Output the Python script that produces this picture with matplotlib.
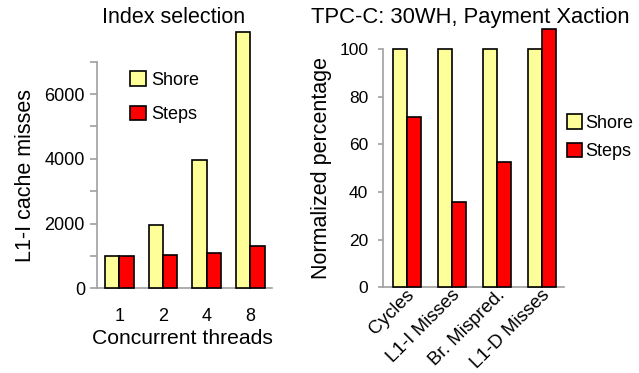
import matplotlib
matplotlib.use("Agg")
import matplotlib.pyplot as plt
import matplotlib.transforms as mtransforms
import numpy as np

# Data
threads = ["1", "2", "4", "8"]
shore_l1i = [1000, 1960, 3950, 7930]
steps_l1i = [1000, 1040, 1100, 1300]

metrics = ["Cycles", "L1-I Misses", "Br. Mispred.", "L1-D Misses"]
shore_pct = [100, 100, 100, 100]
steps_pct = [71.5, 35.8, 52.4, 108.2]

plt.rcParams.update({
    "font.family": ["Liberation Sans", "DejaVu Sans"],
    "font.size": 12,
})

SHORE = "#FFFF99"
STEPS = "#FF0000"
GRAY = "#A0A0A0"

fig = plt.figure(figsize=(6.39, 3.73), dpi=100)


def style_axes(ax, ticklen, labelsize):
    for s in ["top", "right"]:
        ax.spines[s].set_visible(False)
    for s in ["left", "bottom"]:
        ax.spines[s].set_color(GRAY)
        ax.spines[s].set_linewidth(1.2)
    ax.tick_params(axis="y", colors=GRAY, labelcolor="black", length=ticklen,
                   width=1.2, labelsize=labelsize)
    ax.tick_params(axis="x", length=0, labelsize=labelsize)


# Left: Index selection
ax1 = fig.add_axes([0.1513, 0.227, 0.2739, 0.6075])
x = np.arange(len(threads))
w = 0.33
ax1.bar(x - w / 2, shore_l1i, w, color=SHORE, edgecolor="black", linewidth=1.2,
        label="Shore", clip_on=False, zorder=3)
ax1.bar(x + w / 2, steps_l1i, w, color=STEPS, edgecolor="black", linewidth=1.2,
        label="Steps", clip_on=False, zorder=3)
ax1.set_xlim(-0.52, 3.49)
ax1.set_ylim(0, 7000)
ax1.set_yticks(range(0, 7001, 1000))
ax1.set_yticklabels(["0", "", "2000", "", "4000", "", "6000", ""])
ax1.set_xticks(x)
ax1.set_xticklabels(threads)
style_axes(ax1, 5, 13)
ax1.tick_params(axis="y", pad=3.5)
ax1.tick_params(axis="x", pad=14)
ax1.set_ylabel("L1-I cache misses", fontsize=15.5, labelpad=6)
fig.text(174 / 639, 1 - 17.5 / 373, "Index selection", fontsize=15.5,
         ha="center", va="center")
fig.text(182 / 639, 1 - 338 / 373, "Concurrent threads", fontsize=15.2,
         ha="center", va="center")
ax1.legend(loc="upper left", bbox_to_anchor=(0.1, 1.03), frameon=False,
           fontsize=13, handlelength=0.85, handleheight=0.85,
           handletextpad=0.3, labelspacing=0.95)

# Right: TPC-C
ax2 = fig.add_axes([0.5994, 0.2298, 0.2833, 0.639])
x2 = np.arange(len(metrics))
w2 = 0.31
ax2.bar(x2 - w2 / 2, shore_pct, w2, color=SHORE, edgecolor="black", linewidth=1.2,
        label="Shore", clip_on=False, zorder=3)
ax2.bar(x2 + w2 / 2, steps_pct, w2, color=STEPS, edgecolor="black", linewidth=1.2,
        label="Steps", clip_on=False, zorder=3)
ax2.set_xlim(-0.52, 3.48)
ax2.set_ylim(0, 100)
ax2.set_yticks(range(0, 101, 20))
ax2.set_xticks(x2)
ax2.set_xticklabels(metrics, rotation=45, ha="right", va="center",
                    rotation_mode="anchor")
style_axes(ax2, 3.6, 12.5)
ax2.tick_params(axis="x", labelsize=13.5, pad=4)
ax2.tick_params(axis="y", pad=7)
shift = mtransforms.ScaledTranslation(5 / 100, 0, fig.dpi_scale_trans)
for lab in ax2.get_xticklabels():
    lab.set_transform(lab.get_transform() + shift)
ax2.set_ylabel("Normalized percentage", fontsize=15.5, labelpad=5)
fig.text(470 / 639, 1 - 17.5 / 373, "TPC-C: 30WH, Payment Xaction",
         fontsize=15.8, ha="center", va="center")
ax2.legend(loc="center left", bbox_to_anchor=(0.925, 0.63), frameon=False,
           fontsize=13, handlelength=0.85, handleheight=0.85,
           handletextpad=0.2, labelspacing=0.6)

fig.savefig("out.png", dpi=100)
